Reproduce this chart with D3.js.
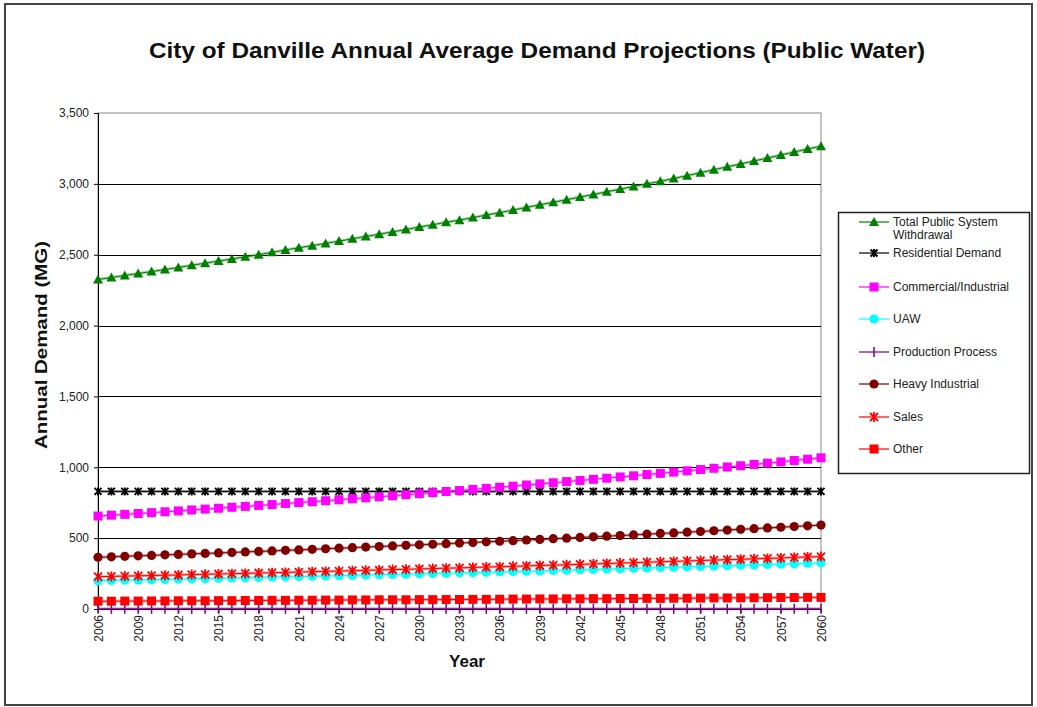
<!DOCTYPE html>
<html><head><meta charset="utf-8">
<script src="https://cdn.jsdelivr.net/npm/d3@7"></script>
<style>
html,body{margin:0;padding:0;background:#fff;}
svg text{font-family:Arial,"Liberation Sans",sans-serif;}
</style></head>
<body>
<svg id="chart" width="1037" height="707"></svg>
<script>
const years = d3.range(2006, 2061);
const xTickLabels = d3.range(2006, 2061, 3);
const yTicks = [0, 500, 1000, 1500, 2000, 2500, 3000, 3500];

const totalWithdrawal = [2325,2339,2354,2367,2381,2395,2410,2426,2440,2455,2470,2485,2500,2517,2533,2549,2564,2580,2596,2612,2629,2645,2661,2678,2695,2711,2729,2744,2762,2780,2797,2815,2834,2852,2870,2888,2907,2925,2944,2963,2982,3000,3018,3038,3058,3079,3100,3120,3141,3161,3182,3203,3225,3246,3266];
const residential = [830,830,830,830,830,830,830,830,830,830,830,830,830,830,830,830,830,830,830,830,830,830,830,830,830,830,830,830,830,830,830,830,830,830,830,830,830,830,830,830,830,830,830,830,830,830,830,830,830,830,830,830,830,830,830];
const commercial = [656,662,668,674,680,686,692,699,705,711,718,724,731,737,744,751,757,764,771,778,785,792,799,807,814,821,829,836,844,851,859,867,875,883,891,899,907,915,923,932,940,949,957,966,975,984,993,1002,1011,1020,1029,1038,1048,1057,1067];
const uaw = [200,202,204,205,207,209,211,213,215,217,219,221,223,225,227,229,231,233,235,237,240,242,244,246,248,251,253,255,257,260,262,264,267,269,272,274,277,279,282,284,287,290,292,295,298,300,303,306,309,311,314,317,320,323,326];
const production = [1,1,1,1,1,1,1,1,1,1,1,1,1,1,1,1,1,1,1,1,1,1,1,1,1,1,1,1,1,1,1,1,1,1,1,1,1,1,1,1,1,1,1,1,1,1,1,1,1,1,1,1,1,1,1];
const heavy = [365,368,372,375,378,382,385,389,392,396,399,403,406,410,414,417,421,425,429,433,437,441,445,449,453,457,461,465,469,474,478,482,487,491,496,500,505,509,514,518,523,528,533,537,542,547,552,557,562,567,572,577,582,587,592];
const sales = [228,230,232,234,236,238,240,243,245,247,249,251,254,256,258,261,263,265,268,270,273,275,278,280,283,285,288,290,293,296,298,301,304,307,309,312,315,318,321,324,327,330,333,336,339,342,345,348,351,354,357,360,364,367,370];
const other = [55,55,56,56,57,57,58,58,58,59,59,60,60,61,61,62,62,63,63,64,64,65,65,65,66,66,67,67,68,68,69,70,70,71,71,72,72,73,73,74,74,75,75,76,76,77,78,78,79,79,80,81,81,82,82];

const seriesNames = ["Total Public System Withdrawal","Residential Demand","Commercial/Industrial","UAW","Production Process","Heavy Industrial","Sales","Other"];
const seriesValues = [totalWithdrawal, residential, commercial, uaw, production, heavy, sales, other];
const seriesColors = ["#008000","#000000","#FF00FF","#00FFFF","#800080","#800000","#FF0000","#FF0000"];
const seriesMarkers = ["triangle","x","square","circle","plus","circle","star","square"];

const svg = d3.select("#chart");
svg.append("rect").attr("x",5).attr("y",4).attr("width",1027).attr("height",701)
  .attr("fill","none").attr("stroke","#444").attr("stroke-width",2);

const L = 98, R = 821, T = 113, B = 609;
const x = d3.scalePoint().domain(years).range([L, R]);
const y = d3.scaleLinear().domain([0, 3500]).range([B, T]);

svg.append("text").attr("x",537).attr("y",58).attr("text-anchor","middle")
  .attr("font-size",22).attr("font-weight","bold").attr("fill","#111")
  .attr("textLength",776).attr("lengthAdjust","spacingAndGlyphs")
  .text("City of Danville Annual Average Demand Projections (Public Water)");

svg.append("rect").attr("x",L).attr("y",T).attr("width",R-L).attr("height",B-T)
  .attr("fill","none").attr("stroke","#888").attr("stroke-width",1);

svg.append("g").selectAll("line").data(yTicks.filter(d=>d>0 && d<3500)).join("line")
  .attr("x1",L).attr("x2",R).attr("y1",d=>Math.round(y(d))+0.5).attr("y2",d=>Math.round(y(d))+0.5)
  .attr("stroke","#000").attr("stroke-width",1);

const yAxis = d3.axisLeft(y).tickValues(yTicks).tickFormat(d3.format(",")).tickSize(4).tickPadding(5);
const gy = svg.append("g").attr("transform",`translate(${L},0)`).call(yAxis);
gy.select(".domain").attr("stroke","#000");
gy.selectAll("text").attr("font-size",12).attr("fill","#222").attr("font-family","Arial, 'Liberation Sans', sans-serif");

const xAxis = d3.axisBottom(x).tickValues(xTickLabels).tickSize(4).tickPadding(6);
const gx = svg.append("g").attr("transform",`translate(0,${B})`).call(xAxis);
gx.select(".domain").attr("stroke","#000");
gx.selectAll("text").attr("font-size",12).attr("fill","#222")
  .attr("font-family","Arial, 'Liberation Sans', sans-serif")
  .attr("transform","rotate(-90)").attr("text-anchor","end")
  .attr("x",-6).attr("y",0).attr("dy","0.35em");

svg.append("text").attr("transform","translate(47,345) rotate(-90)").attr("text-anchor","middle")
  .attr("font-size",17).attr("font-weight","bold").attr("fill","#111")
  .attr("textLength",208).attr("lengthAdjust","spacingAndGlyphs").text("Annual Demand (MG)");
svg.append("text").attr("x",467).attr("y",667).attr("text-anchor","middle")
  .attr("font-size",17).attr("font-weight","bold").attr("fill","#111").text("Year");

function drawMarker(g, type, color, cx, cy) {
  if (type === "triangle") {
    g.append("path").attr("d",`M${cx},${cy-5}L${cx+5},${cy+4}L${cx-5},${cy+4}Z`).attr("fill",color);
  } else if (type === "square") {
    g.append("rect").attr("x",cx-4.5).attr("y",cy-4.5).attr("width",9).attr("height",9).attr("fill",color);
  } else if (type === "circle") {
    g.append("circle").attr("cx",cx).attr("cy",cy).attr("r",4.6).attr("fill",color);
  } else if (type === "x") {
    g.append("path").attr("d",`M${cx-3.5},${cy-3.5}L${cx+3.5},${cy+3.5}M${cx-3.5},${cy+3.5}L${cx+3.5},${cy-3.5}M${cx},${cy-4}L${cx},${cy+4}`)
      .attr("stroke",color).attr("stroke-width",2);
  } else if (type === "star") {
    g.append("path").attr("d",`M${cx-4},${cy-4}L${cx+4},${cy+4}M${cx-4},${cy+4}L${cx+4},${cy-4}M${cx},${cy-5}L${cx},${cy+5}`)
      .attr("stroke",color).attr("stroke-width",1.8);
  } else if (type === "plus") {
    g.append("path").attr("d",`M${cx},${cy-5}L${cx},${cy+5}`).attr("stroke",color).attr("stroke-width",1.5);
  }
}

const line = d3.line().x((d,i)=>x(years[i])).y(d=>y(d));
seriesValues.forEach((vals, si) => {
  const g = svg.append("g");
  g.append("path").datum(vals).attr("d", line).attr("fill","none")
    .attr("stroke", seriesColors[si]).attr("stroke-opacity",0.35).attr("stroke-width",3);
  g.append("path").datum(vals).attr("d", line).attr("fill","none")
    .attr("stroke", seriesColors[si]).attr("stroke-width",1);
  vals.forEach((v,i) => drawMarker(g, seriesMarkers[si], seriesColors[si], x(years[i]), y(v)));
});

const lg = svg.append("g");
lg.append("rect").attr("x",838.5).attr("y",212.5).attr("width",191).attr("height",261)
  .attr("fill","#fff").attr("stroke","#222").attr("stroke-width",1.5);
const legendY = [222, 253, 287, 319, 352, 384, 417, 449];
seriesNames.forEach((name, i) => {
  const ly = legendY[i];
  lg.append("line").attr("x1",859).attr("x2",889).attr("y1",ly).attr("y2",ly)
    .attr("stroke",seriesColors[i]).attr("stroke-width",1.2);
  drawMarker(lg, seriesMarkers[i], seriesColors[i], 874, ly);
  if (i === 0) {
    const t = lg.append("text").attr("x",893).attr("y",ly+4).attr("font-size",12).attr("fill","#222");
    t.append("tspan").attr("x",893).text("Total Public System");
    t.append("tspan").attr("x",893).attr("dy",13).text("Withdrawal");
  } else {
    lg.append("text").attr("x",893).attr("y",ly+4).attr("font-size",12).attr("fill","#222").text(name);
  }
});
</script>
</body></html>
